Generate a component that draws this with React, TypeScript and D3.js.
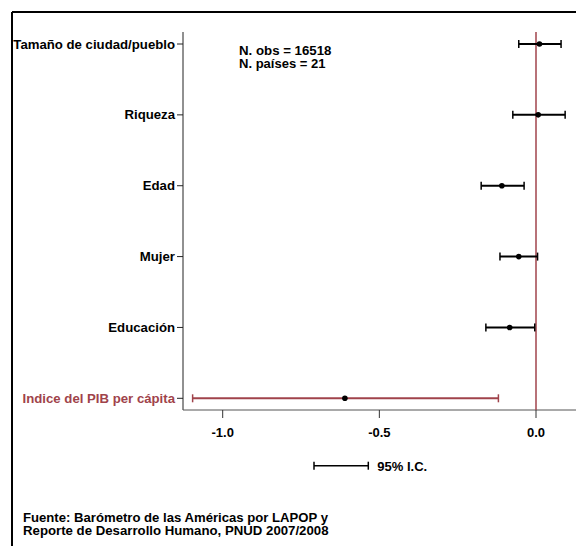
import React from "react";
import * as d3 from "d3";

const categories = [
  "Tamaño de ciudad/pueblo",
  "Riqueza",
  "Edad",
  "Mujer",
  "Educación",
  "Indice del PIB per cápita",
];
const coef = [0.011, 0.007, -0.109, -0.055, -0.084, -0.61];
const ciLow = [-0.055, -0.074, -0.175, -0.115, -0.16, -1.096];
const ciHigh = [0.08, 0.093, -0.038, 0.005, -0.004, -0.12];
const highlighted = [false, false, false, false, false, true];
const xTicks = [-1.0, -0.5, 0.0];
const annotation = ["N. obs = 16518", "N. países = 21"];
const legendLabel = "95% I.C.";
const source = [
  "Fuente: Barómetro de las Américas por LAPOP y",
  "Reporte de Desarrollo Humano, PNUD 2007/2008",
];

const W = 576;
const H = 546;
const RED = "#a0434b";
const FONT = "'Liberation Sans', Arial, Helvetica, sans-serif";

export default function App() {
  const x = d3.scaleLinear().domain([-1, 0]).range([222.7, 536]);
  const y = d3
    .scalePoint<string>()
    .domain(categories)
    .range([44, 398.3]);
  const axisLeft = 183;
  const axisBottom = 410;
  const axisTop = 32;
  const fmt = (t: number) => d3.format(".1f")(t).replace("\u2212", "-");
  const annoWidths = [92.5, 86.5];
  const srcWidths = [305, 305.5];

  return (
    <svg
      width={W}
      height={H}
      style={{ position: "absolute", left: 0, top: 0, background: "#fff" }}
      fontFamily={FONT}
    >
      {/* frame */}
      <line x1={12} y1={12} x2={W} y2={12} stroke="#000" strokeWidth={2} />
      <line x1={12} y1={12} x2={12} y2={H} stroke="#000" strokeWidth={2} />

      {/* axes */}
      <line x1={axisLeft} y1={axisTop} x2={axisLeft} y2={axisBottom} stroke="#222" strokeWidth={1} />
      <line x1={axisLeft} y1={axisBottom} x2={W} y2={axisBottom} stroke="#555" strokeWidth={1} />
      {xTicks.map((t) => (
        <g key={t}>
          <line x1={x(t)} x2={x(t)} y1={axisBottom} y2={axisBottom + 8} stroke="#333" strokeWidth={1} />
          <text
            x={x(t)}
            y={432}
            textAnchor="middle"
            dominantBaseline="central"
            fontSize={13}
            fontWeight="bold"
          >
            {fmt(t)}
          </text>
        </g>
      ))}

      {/* zero reference line */}
      <line x1={x(0)} x2={x(0)} y1={axisTop} y2={axisBottom} stroke={RED} strokeWidth={1.5} />

      {/* rows */}
      {categories.map((c, i) => {
        const yy = y(c)!;
        const col = highlighted[i] ? RED : "#000";
        return (
          <g key={c}>
            <line x1={axisLeft - 6} x2={axisLeft} y1={yy} y2={yy} stroke="#222" strokeWidth={1} />
            <text
              x={axisLeft - 8}
              y={yy}
              textAnchor="end"
              dominantBaseline="central"
              fontSize={13.2}
              fontWeight="bold"
              fill={highlighted[i] ? RED : "#000"}
            >
              {c}
            </text>
            <line x1={x(ciLow[i])} x2={x(ciHigh[i])} y1={yy} y2={yy} stroke={col} strokeWidth={2} />
            <line x1={x(ciLow[i])} x2={x(ciLow[i])} y1={yy - 4} y2={yy + 4} stroke={col} strokeWidth={1.5} />
            <line x1={x(ciHigh[i])} x2={x(ciHigh[i])} y1={yy - 4} y2={yy + 4} stroke={col} strokeWidth={1.5} />
            <circle cx={x(coef[i])} cy={yy} r={2.8} fill="#000" />
          </g>
        );
      })}

      {/* annotation */}
      {annotation.map((t, i) => (
        <text
          key={t}
          x={239}
          y={50.5 + i * 13.5}
          dominantBaseline="central"
          fontSize={12}
          fontWeight="bold"
          textLength={annoWidths[i]}
          lengthAdjust="spacingAndGlyphs"
        >
          {t}
        </text>
      ))}

      {/* legend */}
      <line x1={314} x2={368.3} y1={465.7} y2={465.7} stroke="#000" strokeWidth={1.5} />
      <line x1={314} x2={314} y1={461.7} y2={469.7} stroke="#000" strokeWidth={1.5} />
      <line x1={368.3} x2={368.3} y1={461.7} y2={469.7} stroke="#000" strokeWidth={1.5} />
      <text x={377.3} y={466} dominantBaseline="central" fontSize={13} fontWeight="bold">
        {legendLabel}
      </text>

      {/* source */}
      {source.map((t, i) => (
        <text
          key={t}
          x={23}
          y={517.5 + i * 13.5}
          dominantBaseline="central"
          fontSize={12}
          fontWeight="bold"
          textLength={srcWidths[i]}
          lengthAdjust="spacingAndGlyphs"
        >
          {t}
        </text>
      ))}
    </svg>
  );
}
